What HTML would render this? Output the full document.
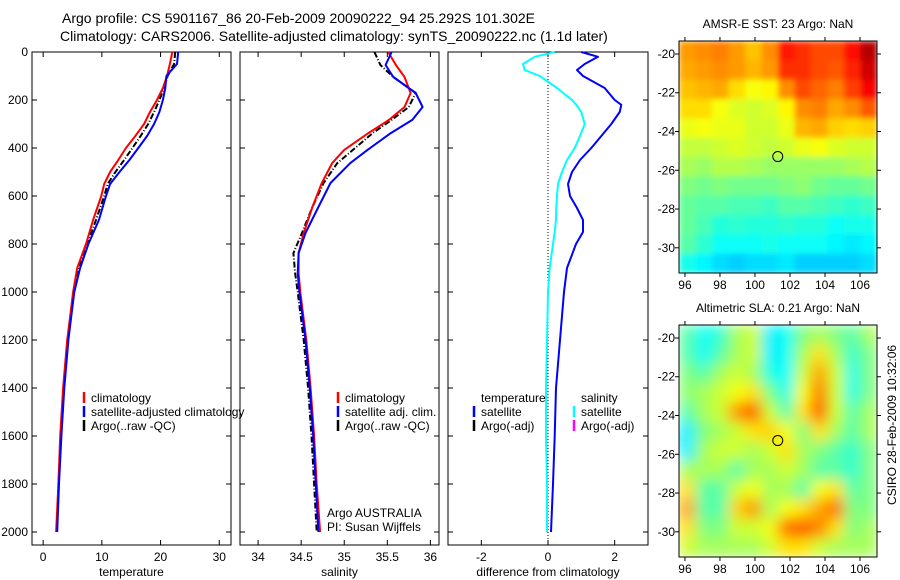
<!DOCTYPE html>
<html><head><meta charset="utf-8">
<style>
body{margin:0;background:#fff;}
svg{display:block;font-family:"Liberation Sans",Arial,sans-serif;}
text{font-size:12px;fill:#000;}
</style></head>
<body>
<svg id="fig" width="900" height="580" viewBox="0 0 900 580" xmlns="http://www.w3.org/2000/svg">
<defs>
<filter id="blurSla" x="0" y="0" width="1" height="1"><feGaussianBlur stdDeviation="7" edgeMode="duplicate"/></filter>
<filter id="blurSst" x="0" y="0" width="1" height="1"><feGaussianBlur stdDeviation="3" edgeMode="duplicate"/></filter>
<clipPath id="clipSst"><rect x="679" y="41" width="198" height="232"/></clipPath>
<clipPath id="clipSla"><rect x="679" y="325" width="198" height="232"/></clipPath>
</defs>
<text x="62" y="23" style="font-size:14px">Argo profile: CS 5901167_86 20-Feb-2009 20090222_94 25.292S 101.302E</text>
<text x="60" y="41" style="font-size:14px">Climatology: CARS2006. Satellite-adjusted climatology: synTS_20090222.nc (1.1d later)</text>
<text transform="translate(896,425) rotate(-90)" text-anchor="middle">CSIRO 28-Feb-2009 10:32:06</text>
</svg>
<script>
// ---------- data ----------
const depthT = [0,50,100,150,200,250,300,350,400,450,500,550,600,700,800,900,1000,1100,1200,1400,1600,1800,2000];
const tempClim = [22.0,21.6,21.1,20.4,19.4,18.2,17.2,15.7,14.1,12.8,11.4,10.4,9.9,8.5,7.3,5.8,5.1,4.6,4.1,3.4,2.9,2.6,2.2];
const tempSat = [23.0,22.8,21.0,20.8,20.4,19.8,18.9,17.7,16.2,14.7,13.0,11.4,10.7,9.5,7.7,6.3,5.3,4.8,4.3,3.6,3.1,2.7,2.4];
const tempArgo = [22.5,22.3,21.2,20.6,19.8,18.9,17.9,16.6,15.2,13.8,12.3,11.0,10.4,9.0,7.5,6.0,5.2,4.7,4.2,3.5,3.0,2.6,2.3];

const depthS = [0,54,104,171,229,283,338,408,463,546,646,754,838,921,1000,1200,1400,1600,1800,2000];
const salClim = [35.51,35.60,35.70,35.77,35.70,35.52,35.28,35.0,34.86,34.74,34.63,34.53,34.47,34.47,34.49,34.56,34.61,34.65,34.68,34.72];
const salSat = [35.55,35.48,35.57,35.83,35.91,35.79,35.54,35.27,35.07,34.84,34.70,34.55,34.47,34.46,34.48,34.55,34.60,34.64,34.67,34.70];
const salArgo = [35.35,35.42,35.57,35.83,35.75,35.55,35.33,35.10,34.92,34.76,34.63,34.51,34.41,34.43,34.46,34.53,34.58,34.62,34.65,34.68];

const depthD = [0,20,50,75,100,150,200,220,250,300,350,400,450,500,550,600,650,700,750,800,900,1000,1200,1400,1600,1800,2000];
const diffTempSat = [1.0,1.5,1.1,0.87,1.05,1.7,2.0,2.2,2.15,1.9,1.6,1.3,0.96,0.72,0.6,0.66,0.87,1.05,1.05,0.84,0.57,0.48,0.36,0.24,0.2,0.15,0.09];
const diffSalSat = [0.2,-0.4,-0.75,-0.7,-0.25,0.27,0.72,0.85,1.0,1.1,0.96,0.8,0.57,0.42,0.3,0.27,0.25,0.24,0.2,0.15,0.05,0.0,-0.03,-0.06,-0.06,-0.03,-0.03];

const depthTicks = [0,200,400,600,800,1000,1200,1400,1600,1800,2000];
const tempTicks = [0,10,20,30];
const salTicks = [34,34.5,35,35.5,36];
const diffTicks = [-2,0,2];
const lonTicks = [96,98,100,102,104,106];
const latTicks = [-20,-22,-24,-26,-28,-30];

const sst = [
[24.3,24.4,24.5,24.3,24.0,24.4,25.3,25.1,24.9,24.9,25.4,26.0],
[24.2,24.3,24.4,24.3,24.1,24.3,25.1,25.1,24.9,24.8,25.2,25.8],
[24.0,24.1,24.2,23.8,23.5,23.6,24.4,24.9,24.7,24.5,25.0,25.5],
[23.8,23.8,23.5,23.3,23.2,23.3,23.6,24.4,24.5,24.2,24.4,24.8],
[23.4,23.5,23.4,23.4,23.2,23.2,23.4,24.1,24.2,23.9,23.8,23.9],
[23.1,23.1,23.2,23.3,23.2,23.1,23.2,23.4,23.5,23.3,23.2,23.2],
[22.9,22.8,23.0,23.0,22.9,22.8,22.8,22.8,22.8,22.8,22.9,23.0],
[22.6,22.5,22.6,22.5,22.5,22.5,22.6,22.7,22.5,22.4,22.4,22.5],
[22.4,22.3,22.3,22.2,22.2,22.1,22.3,22.3,22.2,22.1,22.0,22.1],
[22.4,22.2,21.9,22.0,21.9,21.9,22.0,21.9,21.9,21.7,21.8,21.8],
[22.3,22.0,21.7,21.7,21.7,21.8,21.7,21.7,21.7,21.6,21.5,21.6],
[21.8,21.6,21.4,21.3,21.4,21.4,21.5,21.3,21.3,21.3,21.3,21.4]];
const sla = [
[0.05,-0.05,0.0,0.15,0.2,-0.08,-0.05,0.1,0.15,0.1,0.05,0.15],
[0.05,-0.05,0.05,0.15,0.2,-0.08,-0.05,0.15,0.3,0.15,0.0,0.1],
[0.1,0.05,0.15,0.2,0.15,-0.03,-0.06,0.2,0.38,0.2,-0.03,0.1],
[0.12,0.15,0.2,0.25,0.3,0.1,-0.03,0.25,0.44,0.2,-0.03,0.1],
[0.05,0.15,0.2,0.4,0.48,0.2,0.05,0.3,0.48,0.2,0.05,0.15],
[-0.08,0.1,0.15,0.2,0.3,0.32,0.25,0.1,0.3,0.15,0.05,0.15],
[-0.08,0.15,0.2,0.2,0.15,0.2,0.3,0.15,0.1,0.05,0.0,0.1],
[0.15,0.15,0.15,0.05,0.15,0.15,0.2,0.15,0.05,0.05,0.0,0.1],
[0.3,0.05,0.05,0.2,0.25,0.15,0.15,0.05,0.25,0.3,0.05,0.1],
[0.38,0.05,0.05,0.32,0.4,0.15,0.25,0.3,0.38,0.45,0.1,0.1],
[0.3,0.1,0.1,0.2,0.2,0.25,0.45,0.48,0.42,0.3,0.1,0.15],
[0.2,0.15,0.15,0.15,0.15,0.2,0.3,0.3,0.2,0.15,0.15,0.15]];
const argoLon = 101.302, argoLat = -25.292;

// ---------- helpers ----------
const NS = "http://www.w3.org/2000/svg";
const svg = document.getElementById('fig');
function mk(tag, attrs, parent){
  const e = document.createElementNS(NS, tag);
  for (const k in attrs) e.setAttribute(k, attrs[k]);
  (parent||svg).appendChild(e);
  return e;
}
function jet(v){
  v = Math.max(0, Math.min(1, v));
  const r = Math.max(0, Math.min(1, 1.5 - Math.abs(4*v - 3)));
  const g = Math.max(0, Math.min(1, 1.5 - Math.abs(4*v - 2)));
  const b = Math.max(0, Math.min(1, 1.5 - Math.abs(4*v - 1)));
  return `rgb(${Math.round(r*255)},${Math.round(g*255)},${Math.round(b*255)})`;
}

const PT = 52, PB = 545, D0 = 52, DK = 0.24;
const yD = d => D0 + d*DK;

function panel(name, x0, x1, vmin, vmax, ticks, xlabel, showY){
  const xs = v => x0 + (v - vmin)/(vmax - vmin)*(x1 - x0);
  const g = mk('g', {});
  
  
  const box = mk('rect', {x:x0, y:PT, width:x1-x0, height:PB-PT, fill:'none', stroke:'#000', 'stroke-width':1}, g);
  
  
  ticks.forEach(t => {
    const x = xs(t);
    mk('line', {x1:x, x2:x, y1:PB, y2:PB-5, stroke:'#000'}, g);
    mk('line', {x1:x, x2:x, y1:PT, y2:PT+5, stroke:'#000'}, g);
    const lb = mk('text', {x:x, y:PB+16, 'text-anchor':'middle'}, g);
    lb.textContent = String(t);
    
    
  });
  depthTicks.forEach(d => {
    const y = yD(d);
    mk('line', {x1:x0, x2:x0+5, y1:y, y2:y, stroke:'#000'}, g);
    mk('line', {x1:x1, x2:x1-5, y1:y, y2:y, stroke:'#000'}, g);
    if (showY){
      const lb = mk('text', {x:x0-4, y:y+4, 'text-anchor':'end'}, g);
      lb.textContent = String(d);
      
      
    }
  });
  const xl = mk('text', {x:(x0+x1)/2, y:PB+31, 'text-anchor':'middle'}, g);
  xl.textContent = xlabel;
  
  
  return {g, xs};
}
function line(p, name, depths, vals, color, width, dash){
  const pts = depths.map((d,i) => p.xs(vals[i]).toFixed(1) + ',' + yD(d).toFixed(1)).join(' ');
  const a = {points:pts, fill:'none', stroke:color, 'stroke-width':width, 'stroke-linejoin':'round'};
  if (dash) a['stroke-dasharray'] = dash;
  const e = mk('polyline', a, p.g);
  
  
}
function legend(p, name, x, y, items){
  const g = mk('g', {}, p.g);
  
  
  items.forEach((it, i) => {
    const yy = y + i*14;
    if (it.c) mk('line', {x1:x, x2:x, y1:yy-10, y2:yy+1, stroke:it.c, 'stroke-width':2.5}, g);
    const t = mk('text', {x:x+7, y:yy}, g);
    t.textContent = it.t;
    
    
  });
}

// ---------- temperature panel ----------
const p1 = panel('temperature-panel', 32, 231, -1.9, 32, tempTicks, 'temperature', true);
line(p1, 'temp-argo-line', depthT, tempArgo, '#000', 2, '6,2,1,2');
line(p1, 'temp-climatology-line', depthT, tempClim, '#f00', 2);
line(p1, 'temp-satellite-line', depthT, tempSat, '#00f', 2);
legend(p1, 'temp-legend', 84, 402, [{c:'#f00',t:'climatology'},{c:'#00f',t:'satellite-adjusted climatology'},{c:'#000',t:'Argo(..raw -QC)'}]);

// ---------- salinity panel ----------
const p2 = panel('salinity-panel', 240, 439, 33.79, 36.1, salTicks, 'salinity', false);
line(p2, 'sal-argo-line', depthS, salArgo, '#000', 2, '6,2,1,2');
line(p2, 'sal-climatology-line', depthS, salClim, '#f00', 2);
line(p2, 'sal-satellite-line', depthS, salSat, '#00f', 2);
legend(p2, 'sal-legend', 338, 402, [{c:'#f00',t:'climatology'},{c:'#00f',t:'satellite adj. clim.'},{c:'#000',t:'Argo(..raw -QC)'}]);
const pi1 = mk('text', {x:327, y:517}, p2.g); pi1.textContent = 'Argo AUSTRALIA';


const pi2 = mk('text', {x:327, y:531}, p2.g); pi2.textContent = 'PI: Susan Wijffels';



// ---------- difference panel ----------
const p3 = panel('difference-panel', 448, 648, -3.0, 3.0, diffTicks, 'difference from climatology', false);
const zl = mk('line', {x1:p3.xs(0), x2:p3.xs(0), y1:PT, y2:PB, stroke:'#000', 'stroke-dasharray':'1,2'}, p3.g);


line(p3, 'diff-salinity-satellite-line', depthD, diffSalSat, '#0ff', 2);
line(p3, 'diff-temperature-satellite-line', depthD, diffTempSat, '#00f', 2);
legend(p3, 'diff-temp-legend', 474, 402, [{t:'temperature'},{c:'#00f',t:'satellite'},{c:'#000',t:'Argo(-adj)'}]);
legend(p3, 'diff-sal-legend', 574, 402, [{t:'salinity'},{c:'#0ff',t:'satellite'},{c:'#f0f',t:'Argo(-adj)'}]);

// ---------- maps ----------
const LON0 = 95.66, LON1 = 106.97, LAT0 = -19.33, LAT1 = -31.3;
function mapPanel(name, top, title, grid, cmin, cmax, filt, clip){
  const x0 = 679, x1 = 877, y0 = top, y1 = top + 232;
  const xs = lon => x0 + (lon - LON0)/(LON1 - LON0)*(x1 - x0);
  const ys = lat => y0 + (lat - LAT0)/(LAT1 - LAT0)*(y1 - y0);
  const g = mk('g', {});
  
  
  const img = mk('g', {'clip-path':'url(#' + clip + ')'}, g);
  const inner = mk('g', {filter:'url(#' + filt + ')'}, img);
  const nr = grid.length, nc = grid[0].length;
  const dLon = (LON1 - LON0)/nc, dLat = (LAT1 - LAT0)/nr;
  grid.forEach((row, r) => row.forEach((v, c) => {
    const cx = xs(LON0 + c*dLon), cy = ys(LAT0 + r*dLat);
    const cell = mk('rect', {x:cx.toFixed(1), y:cy.toFixed(1), width:(xs(LON0+(c+1)*dLon)-cx+0.6).toFixed(1), height:(ys(LAT0+(r+1)*dLat)-cy+0.6).toFixed(1), fill:jet((v - cmin)/(cmax - cmin))}, inner);
    
    
  }));
  mk('rect', {x:x0, y:y0, width:x1-x0, height:y1-y0, fill:'none', stroke:'#000'}, g);
  lonTicks.forEach(l => {
    const x = xs(l);
    mk('line', {x1:x, x2:x, y1:y0, y2:y0-4, stroke:'#000'}, g);
    mk('line', {x1:x, x2:x, y1:y1, y2:y1+4, stroke:'#000'}, g);
    const t = mk('text', {x:x, y:y1+16, 'text-anchor':'middle'}, g);
    t.textContent = String(l);
    
    
  });
  latTicks.forEach(l => {
    const y = ys(l);
    mk('line', {x1:x0, x2:x0-4, y1:y, y2:y, stroke:'#000'}, g);
    mk('line', {x1:x1, x2:x1+4, y1:y, y2:y, stroke:'#000'}, g);
    const t = mk('text', {x:x0-4, y:y+4, 'text-anchor':'end'}, g);
    t.textContent = String(l);
    
    
  });
  const ti = mk('text', {x:(x0+x1)/2, y:y0-13, 'text-anchor':'middle'}, g);
  ti.textContent = title;
  
  
  const mk1 = mk('circle', {cx:xs(argoLon), cy:ys(argoLat), r:5, fill:'none', stroke:'#000'}, g);
  
  
}
mapPanel('sst-map', 41, 'AMSR-E SST: 23 Argo: NaN', sst, 18.8, 26.4, 'blurSst', 'clipSst');
mapPanel('sla-map', 325, 'Altimetric SLA: 0.21 Argo: NaN', sla, -0.55, 0.75, 'blurSla', 'clipSla');
</script>
</body></html>
